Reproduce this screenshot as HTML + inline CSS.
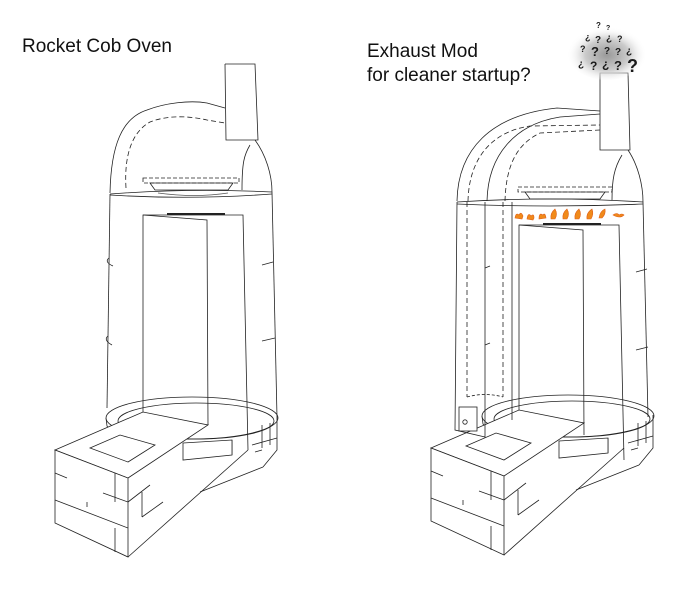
<!DOCTYPE html>
<html><head><meta charset="utf-8"><style>
html,body{margin:0;padding:0;background:#fff;}
svg{display:block}
text{font-family:"Liberation Sans",sans-serif;}
</style></head><body>
<svg width="700" height="590" viewBox="0 0 700 590" xmlns="http://www.w3.org/2000/svg">
<defs>
<radialGradient id="cl" cx="50%" cy="55%" r="50%">
<stop offset="0" stop-color="#999"/><stop offset="0.55" stop-color="#ccc"/><stop offset="1" stop-color="#fff" stop-opacity="0"/>
</radialGradient>
<g id="riser" fill="none" stroke="#222" stroke-width="0.8">
  <path d="M143,412 L143,215 L243,215 L248,450"/>
  <path d="M143,215 L207,220 L208,425"/>
  <path d="M167,214 L225,214" stroke-width="2"/>
</g>
<g id="base" fill="none" stroke="#222" stroke-width="0.8">
  <!-- ring -->
  <ellipse cx="192" cy="418" rx="86" ry="21"/>
  <ellipse cx="196" cy="421" rx="78" ry="18"/>
  <path d="M106,418 L107,426 Q115,438 140,446"/>
  <path d="M277,417 L277,450 L263,467 M200,492 L263,467"/>
  <path d="M252,445 L277,438 M262,425 L262,448 M270,423 L270,445 M255,452 L262,450 M232,440 L232,455"/>
  <polygon points="183,443 232,440 232,455 183,460" fill="#fff"/>
  <!-- diagonal -->
  <path d="M128,557 L248,450"/>
  <!-- box -->
  <polygon points="55,450 143,412 208,425 128,478" fill="#fff"/>
  <polygon points="55,450 55,523 128,557 128,478" fill="#fff"/>
  <path d="M55,500 L128,528"/>
  <path d="M55,473 L67,478 M87,502 L87,507 M103,493 L128,502 M115,473 L115,502 M115,528 L115,552"/>
  <path d="M128,502 L150,485 M142,492 L142,517 M142,517 L163,502"/>
  <polygon points="90,448 120,435 155,445 128,462"/>
</g>
</defs>

<text x="22" y="52" font-size="19" fill="#111">Rocket Cob Oven</text>
<text x="367" y="57" font-size="19" fill="#111">Exhaust Mod</text>
<text x="367" y="81" font-size="19" fill="#111">for cleaner startup?</text>

<!-- LEFT -->
<g fill="none" stroke="#222" stroke-width="0.8">
  <path d="M272,192 L277,417"/>
  <path d="M262,265 L273,262 M262,341 L275,338"/>
  <path d="M110,194 L107,408"/>
  <path d="M109,258 Q104,262 113,266 M108,336 Q103,340 112,345"/>
</g>
<use href="#riser"/>
<use href="#base"/>
<g fill="none" stroke="#222" stroke-width="0.8">
  <path d="M110,194 Q190,188 272,192 M110,195 Q190,200 272,194"/>
  <path d="M110,193 C111,145 122,118 147,110 C165,103 190,100 207,103 L225,108"/>
  <path d="M126,188 C124,155 132,132 150,122 C165,116 185,115 207,120 L225,123" stroke-dasharray="5,3"/>
  <path d="M225,64 L255,64 L258,140 L226,140 L225,64" fill="#fff"/>
  <path d="M255,140 C266,155 272,175 272,192"/>
  <path d="M250,145 C244,155 242,163 242,190"/>
  <rect x="143" y="178" width="96" height="5" stroke-dasharray="4,2"/>
  <path d="M150,183 L233,183 L228,190 L155,190 Z"/>
  <path d="M158,193 Q195,198 228,193" stroke="#555"/>
</g>

<!-- RIGHT -->
<g fill="none" stroke="#222" stroke-width="0.8">
  <path d="M643,202 L648,417"/>
  <path d="M636,272 L647,269 M636,350 L648,347"/>
</g>
<g transform="translate(376,10)"><use href="#riser"/></g>
<g transform="translate(376,-2)"><use href="#base"/></g>
<g fill="none" stroke="#222" stroke-width="0.8">
  <path d="M457,202 L455,430 L485,437 L485,202"/>
  <path d="M467,202 L467,397 M503,202 L503,397" stroke-dasharray="5,3"/>
  <path d="M467,397 Q485,392 503,397" stroke-dasharray="3,2"/>
  <path d="M512,202 L512,420 M485,268 L490,266 M485,345 L490,343"/>
  <rect x="459" y="407" width="18" height="24" fill="#fff"/>
  <circle cx="465" cy="422" r="2.2"/>
  <path d="M457,202 Q550,196 643,202 M457,204 Q550,208 643,204"/>
  <path d="M457,201 C458,150 490,115 557,108 L600,111"/>
  <path d="M487,201 C488,155 515,124 560,117 L600,114"/>
  <path d="M468,201 C469,160 490,132 530,126 L600,125" stroke-dasharray="5,3"/>
  <path d="M505,201 C506,168 515,145 540,133 L600,130" stroke-dasharray="5,3"/>
  <path d="M600,73 L628,73 L630,150 L600,150 Z" fill="#fff"/>
  <path d="M628,150 C638,165 643,185 643,202"/>
  <path d="M622,155 C614,168 612,180 612,200"/>
  <rect x="518" y="187" width="94" height="5" stroke-dasharray="4,2"/>
  <path d="M525,192 L605,192 L600,199 L530,199 Z"/>
</g>
<!-- flames -->
<g fill="#f08a1a" stroke="#e0601a" stroke-width="0.6">
  <path d="M515,218 q1,-6 4,-3 q2,-4 4,1 l-1,3 z"/><path d="M527,219 q1,-7 4,-3 q3,-3 3,2 l-1,2 z"/>
  <path d="M539,219 q0,-7 4,-4 q2,-3 3,3 z"/><path d="M551,219 q-1,-6 4,-10 q3,5 0,10 z"/>
  <path d="M563,219 q-1,-6 4,-10 q3,5 0,10 z"/><path d="M575,219 q-1,-6 4,-10 q3,5 0,10 z"/>
  <path d="M587,219 q-1,-6 5,-10 q2,5 -1,10 z"/><path d="M599,218 q1,-7 6,-9 q1,5 -3,9 z"/>
  <path d="M613,215 q4,-3 6,0 q3,-2 5,0 q-4,4 -11,0 z"/>
</g>
<!-- question cloud -->
<ellipse cx="607" cy="52" rx="40" ry="28" fill="url(#cl)"/>
<g fill="#1a1a1a" font-weight="bold">
  <text x="596" y="28" font-size="8">?</text><text x="606" y="30" font-size="7">?</text>
  <text x="585" y="40" font-size="9">¿</text><text x="595" y="43" font-size="10">?</text>
  <text x="606" y="41" font-size="10">¿</text><text x="617" y="42" font-size="9">?</text>
  <text x="580" y="52" font-size="9">?</text><text x="591" y="56" font-size="13">?</text>
  <text x="604" y="54" font-size="10">?</text><text x="615" y="55" font-size="10">?</text><text x="626" y="54" font-size="10">¿</text>
  <text x="578" y="67" font-size="10">¿</text><text x="590" y="70" font-size="12">?</text>
  <text x="602" y="68" font-size="12">¿</text><text x="614" y="70" font-size="13">?</text><text x="627" y="72" font-size="18">?</text>
</g>
</svg>
</body></html>
